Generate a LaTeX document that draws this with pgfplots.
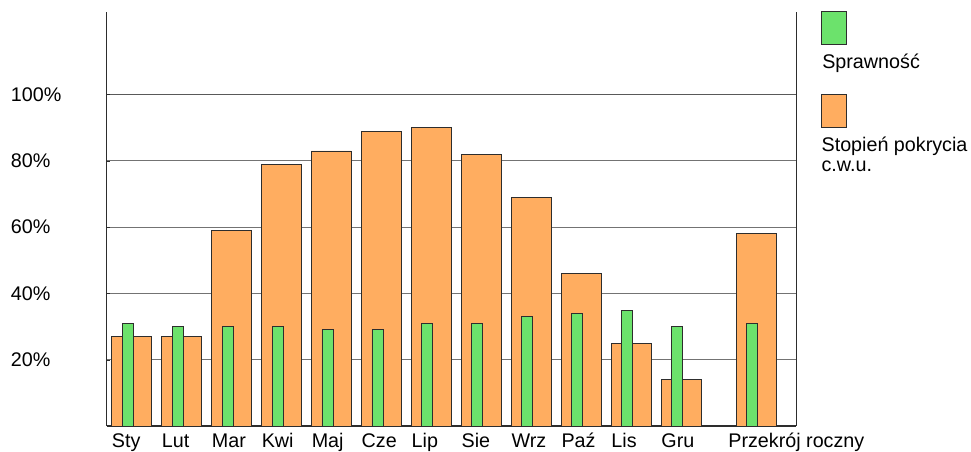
\documentclass[border=0pt]{standalone}
\usepackage{pgfplots}
\pgfplotsset{compat=1.18}
\usepackage{fontspec}
\setmainfont{Liberation Sans}
\definecolor{orng}{RGB}{255,173,96}
\definecolor{grn}{RGB}{108,226,108}
\definecolor{edge}{RGB}{45,45,45}
\begin{document}
\begin{tikzpicture}[font=\fontsize{14.8}{17}\selectfont]
\useasboundingbox (0pt,0pt) rectangle (728.25pt,338.25pt);
\begin{axis}[
  at={(80.025pt,18.75pt)}, anchor=south west,
  scale only axis, width=517pt, height=310.7pt,
  xmin=-0.5, xmax=13.3, ymin=0, ymax=125,
  axis x line*=bottom, axis y line*=box,
  axis line style={draw=edge, line width=0.8pt},
  xtick={-0.4,0.6,1.6,2.6,3.6,4.6,5.6,6.6,7.6,8.6,9.6,10.6,11.94},
  xticklabels={Sty,Lut,Mar,Kwi,Maj,Cze,Lip,Sie,Wrz,Paź,Lis,Gru,Przekrój roczny},
  xtick style={draw=none},
  xticklabel style={anchor=base west, inner sep=0pt, yshift=-15.75pt},
  ytick={20,40,60,80},
  yticklabels={20\%,40\%,60\%,80\%},
  extra y ticks={100},
  extra y tick labels={100\%},
  extra y tick style={grid style={draw=black!65, line width=1.1pt}},
  ytick pos=left, tick align=inside,
  major tick length=2.5pt,
  ytick style={draw=edge},
  yticklabel style={anchor=west, inner sep=0pt, xshift=-72pt},
  ymajorgrids=true,
  grid style={draw=black!55, line width=0.6pt},
  clip=false,
]
\addplot[ybar, bar width=30pt, bar shift=0pt, fill=orng, draw=edge, line width=0.6pt]
  coordinates {(0,27) (1,27) (2,59) (3,79) (4,83) (5,89) (6,90) (7,82) (8,69) (9,46) (10,25) (11,14) (12.5,58)};
\addplot[ybar, bar width=8.25pt, bar shift=-3pt, fill=grn, draw=edge, line width=0.6pt]
  coordinates {(0,31) (1,30) (2,30) (3,30) (4,29) (5,29) (6,31) (7,31) (8,33) (9,34) (10,35) (11,30) (12.5,31)};
\end{axis}
\draw[fill=grn, draw=edge, line width=0.6pt] (615.75pt,305.0pt) rectangle (634.5pt,329.5pt);
\node[anchor=base west, inner sep=0pt] at (616.5pt,287pt) {Sprawność};
\draw[fill=orng, draw=edge, line width=0.6pt] (615.75pt,242.5pt) rectangle (634.5pt,267.5pt);
\node[anchor=base west, inner sep=0pt] at (616pt,224.5pt) {Stopień pokrycia};
\node[anchor=base west, inner sep=0pt] at (616pt,209.5pt) {c.w.u.};
\end{tikzpicture}
\end{document}
